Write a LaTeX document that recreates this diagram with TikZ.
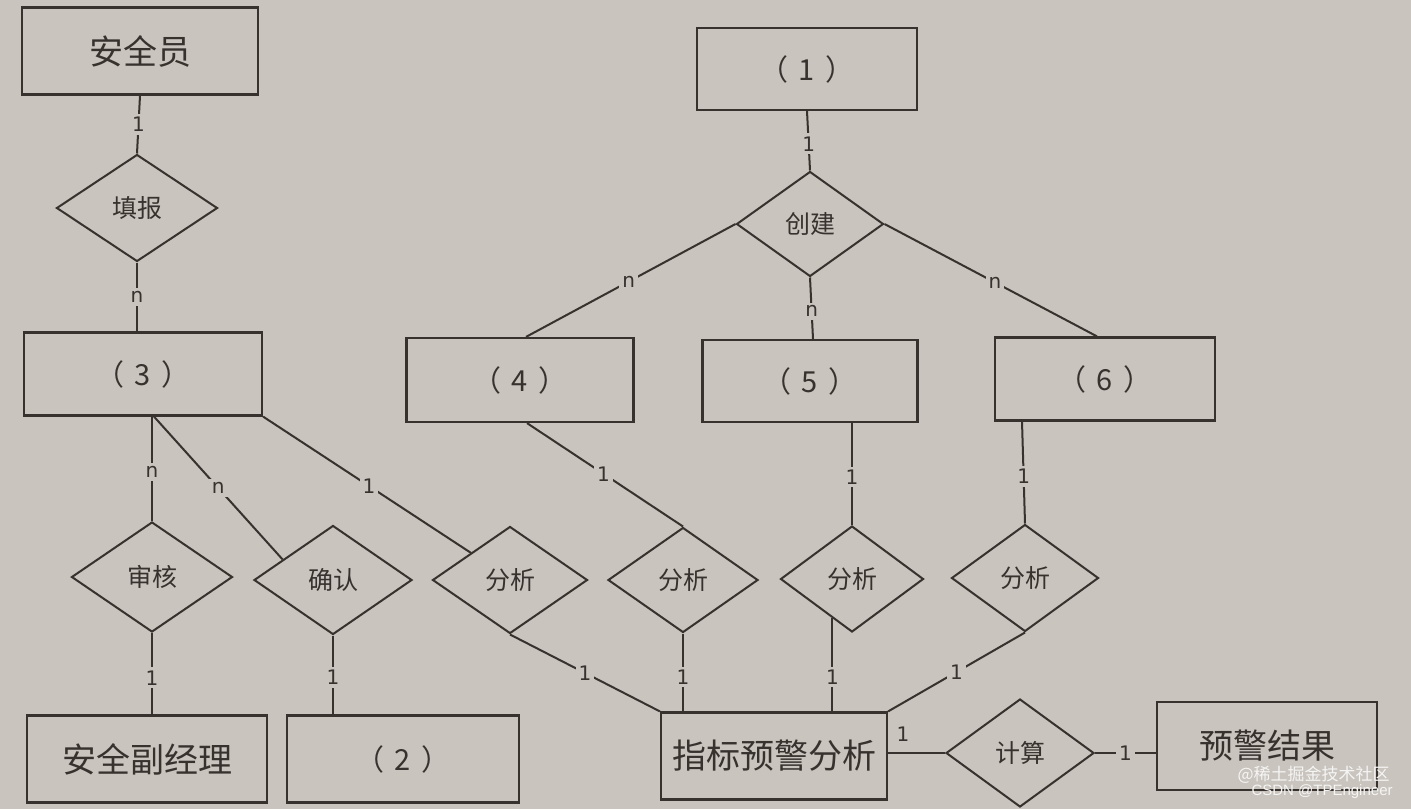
\documentclass[tikz,border=0pt]{standalone}
\usepackage{fontspec}
\usetikzlibrary{shapes.geometric,calc}
\newfontfamily\cjk{Noto Sans CJK SC}
\newfontfamily\lab{DejaVu Sans}
\definecolor{bg}{RGB}{201,196,189}
\definecolor{ink}{RGB}{55,50,46}
\definecolor{wm}{RGB}{245,245,245}
\newcommand{\pn}[1]{（\hspace{5pt}#1\hspace{5pt}）}
\tikzset{
  ent/.style={draw=ink, line width=1.1pt, fill=bg, rectangle, inner sep=0pt, text=ink,
    font=\cjk\fontsize{17}{17}\selectfont},
  entp/.style={ent, font=\cjk\fontsize{14.5}{14.5}\selectfont},
  rel/.style={draw=ink, line width=1pt, fill=bg, diamond, inner sep=0pt, text=ink,
    font=\cjk\fontsize{12.5}{12.5}\selectfont},
  card/.style={fill=bg, inner sep=1.5pt, text=ink, font=\lab\fontsize{10}{10}\selectfont},
  cardn/.style={inner sep=1pt, text=ink, font=\lab\fontsize{10}{10}\selectfont},
  conn/.style={draw=ink, line width=1pt}
}
\begin{document}
\begin{tikzpicture}[x=0.5pt,y=-0.5pt]
\fill[bg] (0,0) rectangle (1411,809);
\useasboundingbox (0,0) rectangle (1411,809);

% entities
\node[ent,  minimum width=118pt, minimum height=43.5pt] (aqy) at (140,51) {安全员};
\node[entp, minimum width=110pt, minimum height=41pt]   (e1)  at (807,69) {\pn{1}};
\node[entp, minimum width=119pt, minimum height=41.5pt] (e3)  at (143,374) {\pn{3}};
\node[entp, minimum width=113.5pt, minimum height=42pt] (e4)  at (520,380) {\pn{4}};
\node[entp, minimum width=107.5pt, minimum height=41pt] (e5)  at (810,381) {\pn{5}};
\node[entp, minimum width=110pt, minimum height=41.5pt] (e6)  at (1105,379) {\pn{6}};
\node[ent,  minimum width=120pt, minimum height=43.5pt] (fjl) at (147,759) {安全副经理};
\node[entp, minimum width=116pt, minimum height=43.5pt] (e2)  at (403,759) {\pn{2}};
\node[ent,  minimum width=113pt, minimum height=43.5pt] (zb)  at (774,756) {指标预警分析};
\node[ent,  minimum width=110pt, minimum height=44pt]   (jg)  at (1267,746) {预警结果};

% relationships
\node[rel, minimum width=80.5pt, minimum height=53.5pt] (tb) at (137,208) {填报};
\node[rel, minimum width=73.5pt, minimum height=52.5pt] (cj) at (810,224) {创建};
\node[rel, minimum width=80.5pt, minimum height=55pt]   (sh) at (152,577) {审核};
\node[rel, minimum width=79pt,   minimum height=54.5pt] (qr) at (333,580) {确认};
\node[rel, minimum width=77.5pt, minimum height=53.5pt] (f1) at (510,580) {分析};
\node[rel, minimum width=75pt,   minimum height=52.5pt] (f2) at (683,580) {分析};
\node[rel, minimum width=71.5pt, minimum height=53pt]   (f3) at (852,579) {分析};
\node[rel, minimum width=73.5pt, minimum height=53.5pt] (f4) at (1025,578) {分析};
\node[rel, minimum width=74pt,   minimum height=54pt]   (js) at (1020,753) {计算};

% connectors
\draw[conn] (aqy.south) -- (tb.north) node[card,pos=0.5] {1};
\draw[conn] (tb.south) -- (tb.south |- e3.north) node[card,pos=0.5] {n};
\draw[conn] (e1.south) -- (cj.north) node[card,pos=0.55] {1};
\draw[conn] (cj.west) -- ($(e4.north)+(6,0)$) node[card,pos=0.51] {n};
\draw[conn] (cj.south) -- ($(e5.north)+(3,0)$) node[card,pos=0.55] {n};
\draw[conn] (cj.east) -- ($(e6.north)+(-8,0)$) node[card,pos=0.52] {n};

\draw[conn] (sh.north |- e3.south) -- (sh.north) node[card,pos=0.53] {n};
\draw[conn] ($(sh.north |- e3.south)+(2,0)$) -- ($(qr.west)!0.37!(qr.north)$) node[card,pos=0.5] {n};
\draw[conn] (e3.south east) -- (f1.north west) node[card,pos=0.51] {1};
\draw[conn] (f1.south) -- (zb.north west) node[card,pos=0.5] {1};

\draw[conn] (sh.south) -- (sh.south |- fjl.north) node[card,pos=0.55] {1};
\draw[conn] (qr.south) -- (qr.south |- e2.north) node[card,pos=0.53] {1};

\draw[conn] ($(e4.south)+(7,0)$) -- (f2.north) node[card,pos=0.49] {1};
\draw[conn] (f2.south) -- (f2.south |- zb.north) node[card,pos=0.56] {1};

\draw[conn] ($(e5.south)+(42,0)$) -- (f3.north) node[card,pos=0.53] {1};
\coordinate (f3p) at ($(f3.south)!0.27!(f3.west)$);
\draw[conn] (f3p) -- (f3p |- zb.north) node[card,pos=0.63] {1};

\draw[conn] ($(e6.south)+(-83,0)$) -- (f4.north) node[card,pos=0.54] {1};
\draw[conn] (f4.south) -- (zb.north east) node[card,pos=0.5] {1};

\draw[conn] (zb.east |- js.west) -- (js.west);
\node[cardn] (c1) at (903,734) {1};
\draw[conn] (js.east) -- (js.east -| jg.west) node[card,pos=0.5] {1};

% watermark
\node[anchor=east, inner sep=0pt, text=wm, font=\cjk\fontsize{8.5}{8.5}\selectfont] (wm1) at (1390,775) {@稀土掘金技术社区};
\node[anchor=east, inner sep=0pt, text=wm, font=\fontspec{Liberation Sans}\fontsize{7.5}{7.5}\selectfont] (wm2) at (1393,792) {CSDN @TPEngineer};
\end{tikzpicture}
\end{document}
